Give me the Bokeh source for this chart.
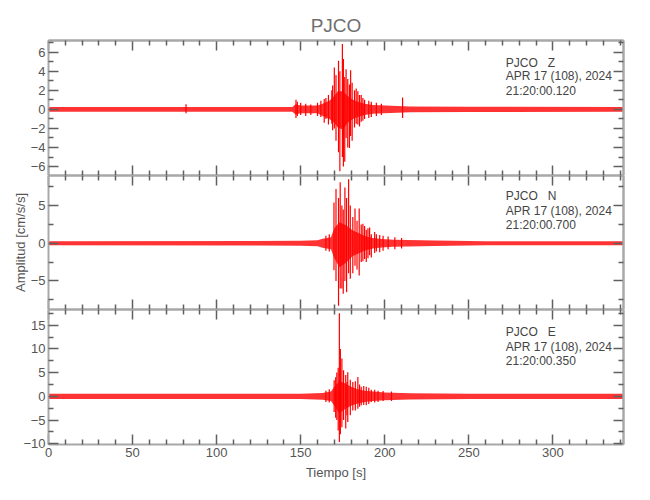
from bokeh.plotting import figure
from bokeh.models import LinearAxis, FixedTicker, Range1d
from bokeh.layouts import column
from bokeh.embed import file_html
from bokeh.resources import INLINE
from bokeh.core.properties import value

# ---------------- data ----------------
station = "PJCO"
x_label = "Tiempo [s]"
y_label = "Amplitud [cm/s/s]"
date_text = "APR 17 (108), 2024"

x_major = [0, 50, 100, 150, 200, 250, 300]
x_minor = [10, 20, 30, 40, 60, 70, 80, 90, 110, 120, 130, 140, 160, 170,
           180, 190, 210, 220, 230, 240, 260, 270, 280, 290, 310, 320, 330, 340]

# Z component -------------------------------------------------
Z_start = "21:20:00.120"
Z_yticks = [-6, -4, -2, 0, 2, 4, 6]
Z_yminor = [-7, -5, -3, -1, 1, 3, 5, 7]
Z_env_t = [0, 145, 147, 150, 160, 163, 167, 170, 172, 175, 178, 181, 184, 188, 193, 200, 215, 250, 342]
Z_env_hi = [0.25, 0.25, 0.55, 0.4, 0.4, 0.6, 0.9, 1.4, 1.9, 1.9, 1.4, 1.0, 0.8, 0.6, 0.45, 0.4, 0.3, 0.27, 0.25]
Z_env_lo = [-0.25, -0.25, -0.55, -0.4, -0.4, -0.7, -1.0, -1.4, -1.9, -2.1, -1.4, -1.0, -0.8, -0.6, -0.45, -0.4, -0.3, -0.27, -0.25]
Z_spk_t = [81.8, 147.2, 148.0, 150.0, 153.0, 156.0, 160.0, 162.0, 164.0, 165.0, 166.5, 168.5,
           169.0, 170.0, 171.0, 172.5, 173.3, 174.8, 175.4, 176.2, 177.0, 178.0, 179.0, 179.7,
           180.6, 182.0, 183.0, 184.0, 185.0, 186.0, 187.0, 188.0, 190.5, 192.0, 195.0, 198.0, 210.6]
Z_spk_hi = [0.55, 1.0, 0.8, 0.7, 0.6, 0.5, 0.7, 0.9, 1.1, 1.2, 1.5, 2.0,
            2.5, 4.4, 3.6, 5.1, 4.0, 6.85, 5.3, 3.4, 4.2, 3.2, 2.6, 4.1,
            2.8, 2.0, 2.2, 1.9, 1.5, 1.5, 1.2, 1.0, 0.9, 0.8, 0.7, 0.6, 1.26]
Z_spk_lo = [-0.4, -0.9, -0.7, -0.6, -0.7, -0.6, -0.7, -0.8, -1.4, -1.0, -1.6, -1.5,
            -2.2, -2.0, -3.3, -4.5, -6.5, -5.0, -6.0, -5.5, -3.0, -4.0, -4.05, -2.8,
            -3.3, -1.9, -1.5, -1.6, -1.8, -1.3, -1.2, -1.0, -0.9, -0.8, -0.7, -0.6, -0.9]

# N component -------------------------------------------------
N_start = "21:20:00.700"
N_yticks = [-5, 0, 5]
N_yminor = [-7.5, -2.5, 2.5, 7.5]
N_env_t = [0, 150, 160, 163, 168, 170, 173, 177, 181, 185, 189, 193, 198, 205, 230, 260, 342]
N_env_hi = [0.28, 0.32, 0.4, 0.6, 0.8, 2.0, 2.8, 2.4, 1.7, 1.3, 0.9, 0.7, 0.55, 0.45, 0.38, 0.28, 0.28]
N_env_lo = [-0.28, -0.32, -0.4, -0.6, -0.8, -2.0, -3.2, -2.6, -1.7, -1.3, -0.9, -0.7, -0.55, -0.45, -0.38, -0.28, -0.28]
N_spk_t = [165.0, 167.0, 169.8, 171.0, 172.5, 173.5, 174.5, 175.3, 176.3, 177.3, 178.5, 179.5,
           181.0, 182.3, 183.5, 184.8, 186.0, 187.0, 188.0, 189.0, 190.0, 191.0, 192.0, 194.0,
           195.0, 197.0, 199.0, 202.0, 206.0, 210.0]
N_spk_hi = [1.0, 1.2, 5.4, 7.2, 6.0, 8.1, 5.0, 4.5, 7.4, 6.0, 8.5, 5.0,
            3.5, 4.6, 3.0, 4.6, 2.5, 2.6, 2.3, 1.8, 2.0, 2.1, 1.2, 1.5,
            1.2, 1.1, 1.0, 0.9, 0.8, 0.7]
N_spk_lo = [-1.0, -1.1, -3.6, -5.0, -8.3, -6.0, -6.0, -6.7, -5.0, -6.5, -4.0, -4.7,
            -4.0, -3.0, -3.5, -4.3, -2.5, -2.4, -2.1, -2.5, -2.0, -1.6, -1.9, -1.3,
            -1.1, -1.2, -1.0, -0.8, -0.8, -0.7]

# E component -------------------------------------------------
E_start = "21:20:00.350"
E_yticks = [-10, -5, 0, 5, 10, 15]
E_yminor = [-7.5, -2.5, 2.5, 7.5, 12.5, 17.5]
E_env_t = [0, 150, 163, 168, 170, 173, 176, 180, 184, 188, 193, 200, 215, 250, 342]
E_env_hi = [0.55, 0.55, 0.7, 1.0, 2.0, 3.2, 2.8, 2.0, 1.5, 1.2, 1.0, 0.8, 0.65, 0.55, 0.55]
E_env_lo = [-0.55, -0.55, -0.7, -1.0, -2.0, -3.6, -2.8, -2.0, -1.5, -1.2, -1.0, -0.8, -0.65, -0.55, -0.55]
E_spk_t = [165.0, 167.0, 169.9, 170.8, 171.5, 172.3, 173.0, 173.6, 174.5, 175.5, 176.8, 177.5,
           178.0, 179.5, 181.0, 182.5, 184.0, 185.0, 186.0, 187.5, 189.0, 190.5, 192.0, 194.0,
           196.0, 199.0, 204.0]
E_spk_hi = [1.2, 1.5, 3.4, 4.0, 5.0, 6.0, 17.5, 10.0, 8.0, 5.5, 4.5, 3.0,
            5.1, 3.5, 3.0, 3.2, 4.1, 2.5, 2.0, 2.2, 2.0, 1.8, 1.4, 1.4,
            1.2, 1.1, 1.0]
E_spk_lo = [-1.2, -1.3, -3.3, -4.5, -5.0, -7.2, -9.6, -8.0, -6.5, -5.0, -6.8, -4.0,
            -5.4, -4.0, -3.0, -3.0, -2.6, -2.2, -1.9, -1.8, -1.9, -1.6, -1.2, -1.3,
            -1.2, -1.0, -1.0]

# ---------------- styling ----------------
FONT = "Liberation Sans"
TRACE = "#ff0000"
AX_LINE = "#a8a8a8"
TICK = "#606060"
TXT = "#555555"


def base_axis(ax):
    ax.axis_line_color = AX_LINE
    ax.axis_line_width = 2
    ax.major_tick_line_color = TICK
    ax.minor_tick_line_color = TICK
    ax.major_tick_line_width = 1.5
    ax.minor_tick_line_width = 1.5
    ax.major_tick_out = 0
    ax.minor_tick_out = 0
    ax.major_label_standoff = 0


def labelled_axis(ticks, minor):
    ax = LinearAxis(ticker=FixedTicker(ticks=ticks, minor_ticks=minor))
    base_axis(ax)
    ax.major_tick_in = 10
    ax.minor_tick_in = 5
    ax.major_label_text_font = FONT
    ax.major_label_text_font_size = "13px"
    ax.major_label_text_color = TXT
    ax.major_label_standoff = 3
    return ax


def add_plain_side(p, ticks, minor, side):
    # ticks only, no labels: one axis for the long ticks, one for the short ones
    a1 = LinearAxis(ticker=FixedTicker(ticks=[], minor_ticks=ticks))
    base_axis(a1)
    a1.minor_tick_in = 10
    a2 = LinearAxis(ticker=FixedTicker(ticks=[], minor_ticks=minor))
    base_axis(a2)
    a2.minor_tick_in = 5
    p.add_layout(a1, side)
    p.add_layout(a2, side)


def make_panel(yr, yticks, yminor, env_t, env_hi, env_lo, spk_t, spk_hi, spk_lo,
               comp, start, text_y, top_border, fh, bottom_labels=False, ylab=None, title=None):
    p = figure(frame_width=575, frame_height=fh,
               x_range=Range1d(0, 342), y_range=Range1d(*yr),
               x_axis_location=None, y_axis_location=None,
               output_backend="svg", toolbar_location=None,
               min_border_left=48, min_border_right=10,
               min_border_top=top_border, min_border_bottom=0,
               title=title)
    p.outline_line_color = None
    p.grid.visible = False
    if title:
        p.title.align = "center"
        p.title.text_font = FONT
        p.title.text_font_size = "19px"
        p.title.text_font_style = "normal"
        p.title.text_color = "#707070"
        p.title.standoff = 10

    left = labelled_axis(yticks, yminor)
    if ylab:
        left.axis_label = ylab
        left.axis_label_text_font = FONT
        left.axis_label_text_font_size = "13px"
        left.axis_label_text_font_style = "normal"
        left.axis_label_text_color = TXT
        left.axis_label_standoff = 0
    p.add_layout(left, "left")
    add_plain_side(p, yticks, yminor, "right")
    add_plain_side(p, x_major, x_minor, "above")

    if bottom_labels:
        bottom = labelled_axis(x_major, x_minor)
        bottom.axis_label = x_label
        bottom.axis_label_text_font = FONT
        bottom.axis_label_text_font_size = "13px"
        bottom.axis_label_text_font_style = "normal"
        bottom.axis_label_text_color = TXT
        bottom.axis_label_standoff = 5
        p.add_layout(bottom, "below")
    else:
        add_plain_side(p, x_major, x_minor, "below")

    # trace: dense core as a band, individual peaks as vertical strokes
    p.varea(x=env_t, y1=env_lo, y2=env_hi, fill_color=TRACE, fill_alpha=0.8)
    p.segment(x0=spk_t, y0=spk_lo, x1=spk_t, y1=spk_hi, line_color=TRACE, line_width=1.2)

    gap = "\u00a0\u00a0\u00a0"
    lines = [f"{station}{gap}{comp}", date_text, start]
    p.text(x=[272, 272, 272], y=text_y, text=lines,
           text_font=value(FONT), text_font_size="12px", text_color="#444444",
           text_baseline="middle", text_align="left")
    return p


p1 = make_panel((-6.94, 7.23), Z_yticks, Z_yminor, Z_env_t, Z_env_hi, Z_env_lo,
                Z_spk_t, Z_spk_hi, Z_spk_lo, "Z", Z_start, [4.91, 3.49, 1.97], 40, 135,
                title=station)
p2 = make_panel((-8.8, 9.0), N_yticks, N_yminor, N_env_t, N_env_hi, N_env_lo,
                N_spk_t, N_spk_hi, N_spk_lo, "N", N_start, [6.33, 4.34, 2.48], 0, 134,
                ylab=y_label)
p3 = make_panel((-10.15, 18.3), E_yticks, E_yminor, E_env_t, E_env_hi, E_env_lo,
                E_spk_t, E_spk_hi, E_spk_lo, "E", E_start, [13.47, 10.5, 7.55], 0, 135,
                bottom_labels=True)

layout = column(p1, p2, p3, spacing=0)
open("out.html", "w").write(file_html(layout, INLINE))
